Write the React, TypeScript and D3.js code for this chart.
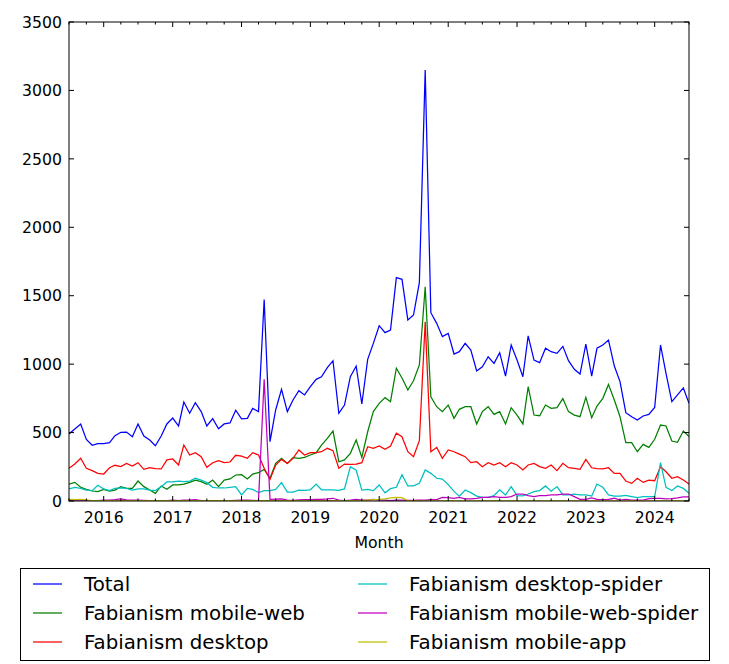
import React from "react";
import * as d3 from "d3";

const startMonth = new Date(2015, 6, 1);
const months: Date[] = d3.range(109).map((i) => new Date(2015, 6 + i, 1));

const total = [490, 526, 563, 450, 407, 419, 419, 426, 477, 502,
  504, 470, 563, 475, 446, 404, 475, 563, 606, 548,
  723, 641, 718, 653, 548, 602, 528, 563, 570, 663,
  600, 604, 677, 653, 1473, 434, 665, 816, 653, 738,
  806, 775, 835, 889, 908, 974, 1025, 641, 701, 908,
  986, 709, 1035, 1152, 1281, 1230, 1249, 1632, 1620, 1323,
  1359, 1595, 3149, 1376, 1298, 1201, 1225, 1074, 1091, 1152,
  1103, 950, 981, 1054, 1006, 1084, 913, 1140, 1030, 908,
  1206, 1030, 1011, 1116, 1091, 1079, 1130, 1025, 962, 928,
  1147, 913, 1116, 1140, 1176, 986, 872, 645, 616, 592,
  621, 633, 684, 1140, 933, 726, 775, 826, 714];

const mobileWeb = [124, 136, 100, 85, 73, 68, 85, 73, 80, 105,
  92, 92, 146, 105, 80, 56, 110, 85, 117, 117,
  124, 136, 153, 141, 122, 153, 105, 153, 161, 190,
  192, 161, 197, 207, 231, 166, 275, 312, 275, 317,
  312, 319, 336, 353, 409, 458, 511, 287, 300, 348,
  446, 319, 506, 653, 714, 755, 726, 970, 899, 811,
  879, 994, 1566, 762, 689, 653, 701, 604, 670, 689,
  689, 563, 653, 689, 633, 653, 563, 682, 628, 563,
  835, 628, 623, 701, 677, 682, 748, 653, 628, 616,
  757, 609, 694, 750, 852, 738, 616, 426, 426, 360,
  414, 392, 451, 555, 548, 438, 429, 511, 470];

const desktop = [239, 270, 312, 239, 222, 202, 197, 243, 261, 251,
  275, 256, 280, 231, 243, 236, 234, 300, 307, 263,
  409, 336, 353, 324, 246, 280, 295, 280, 285, 334,
  328, 312, 353, 336, 239, 158, 263, 304, 275, 312,
  373, 336, 353, 353, 360, 385, 368, 239, 270, 268,
  270, 280, 397, 385, 402, 378, 402, 495, 470, 360,
  324, 441, 1310, 360, 392, 312, 373, 360, 343, 324,
  280, 287, 251, 280, 263, 280, 251, 280, 263, 227,
  263, 275, 251, 239, 263, 222, 275, 243, 239, 231,
  304, 243, 236, 234, 243, 202, 202, 146, 129, 166,
  136, 153, 148, 251, 214, 166, 178, 153, 124];

const desktopSpider = [88, 100, 92, 80, 76, 115, 88, 76, 92, 95,
  92, 80, 88, 88, 80, 76, 105, 139, 139, 146,
  141, 146, 166, 153, 134, 100, 95, 95, 100, 105,
  44, 92, 85, 61, 76, 76, 85, 134, 65, 65,
  80, 78, 82, 124, 82, 82, 82, 78, 88, 250,
  225, 80, 85, 76, 117, 60, 90, 100, 192, 110,
  110, 129, 227, 202, 166, 160, 120, 70, 35, 80,
  61, 36, 27, 27, 40, 82, 44, 105, 40, 38,
  51, 68, 76, 110, 72, 105, 44, 44, 51, 44,
  44, 36, 124, 100, 44, 36, 36, 41, 32, 24,
  32, 32, 32, 280, 100, 76, 110, 92, 56];

const mobileWebSpider = [3, 3, 2, 2, 1, 2, 7, 7, 10, 15,
  8, 7, 7, 5, 3, 3, 2, 3, 7, 3,
  7, 7, 10, 3, 1, 2, 3, 2, 3, 5,
  7, 7, 5, 2, 889, 12, 14, 15, 7, 5,
  8, 10, 10, 12, 12, 15, 20, 7, 3, 7,
  12, 7, 7, 12, 7, 7, 3, 7, 7, 5,
  5, 7, 7, 10, 10, 27, 24, 20, 27, 15,
  15, 20, 27, 27, 32, 27, 27, 32, 51, 51,
  39, 32, 39, 39, 44, 44, 51, 51, 32, 12,
  12, 22, 12, 10, 12, 20, 7, 12, 7, 7,
  7, 17, 20, 20, 15, 17, 22, 30, 30];

const mobileApp = [12, 10, 12, 8, 3, 2, 2, 2, 2, 2,
  2, 2, 2, 2, 2, 2, 2, 2, 2, 2,
  2, 2, 2, 2, 2, 2, 2, 2, 2, 2,
  2, 2, 2, 2, 2, 2, 2, 2, 2, 2,
  2, 2, 2, 2, 2, 2, 2, 2, 2, 2,
  2, 3, 7, 10, 12, 15, 22, 27, 25, 2,
  1, 1, 1, 1, 1, 1, 1, 1, 1, 1,
  1, 1, 1, 1, 1, 1, 1, 1, 1, 1,
  1, 1, 1, 1, 1, 1, 1, 1, 1, 1,
  1, 1, 1, 1, 1, 1, 1, 1, 1, 1,
  1, 1, 1, 1, 1, 1, 1, 1, 1];

const seriesNames = ["Total", "Fabianism mobile-web", "Fabianism desktop",
  "Fabianism desktop-spider", "Fabianism mobile-web-spider", "Fabianism mobile-app"];
const seriesColors = ["#0000ff", "#008000", "#ff0000", "#00bfbf", "#bf00bf", "#bfbf00"];
const seriesValues = [total, mobileWeb, desktop, desktopSpider, mobileWebSpider, mobileApp];

const yTicks = [0, 500, 1000, 1500, 2000, 2500, 3000, 3500];
const yearTicks = d3.range(2016, 2025);

const W = 729, H = 664;
const L = 69, R = 689, T = 22, B = 501;
const FONT = "DejaVu Sans, sans-serif";

export default function App() {
  const x = d3.scaleTime().domain([startMonth, new Date(2024, 6, 1)]).range([L, R]);
  const y = d3.scaleLinear().domain([0, 3500]).range([B, T]);
  const line = d3.line<number>().x((_, i) => x(months[i])).y((v) => y(v));
  const quarterTicks = d3.timeMonth.every(3)!.range(startMonth, new Date(2024, 7, 1))
    .filter((d) => d.getMonth() !== 0);
  const legendRows = [0, 1, 2];
  return (
    <svg width={W} height={H} style={{ position: "absolute", left: 0, top: 0, background: "#fff" }}
      fontFamily={FONT}>
      <rect x={0} y={0} width={W} height={H} fill="#fff" />
      <defs>
        <clipPath id="plot"><rect x={L} y={T} width={R - L} height={B - T} /></clipPath>
      </defs>
      <g clipPath="url(#plot)">
        {seriesValues.map((vals, k) => (
          <path key={k} d={line(vals)!} fill="none" stroke={seriesColors[k]} strokeWidth={1.25}
            strokeLinejoin="miter" />
        ))}
      </g>
      <rect x={L} y={T} width={R - L} height={B - T} fill="none" stroke="#000" strokeWidth={1} />
      {yTicks.map((t) => (
        <g key={t}>
          <line x1={L} x2={L + 5} y1={y(t)} y2={y(t)} stroke="#000" />
          <line x1={R} x2={R - 5} y1={y(t)} y2={y(t)} stroke="#000" />
          <text x={L - 7} y={y(t)} dy="0.36em" textAnchor="end" fontSize={15.7}>{t}</text>
        </g>
      ))}
      {yearTicks.map((yr) => {
        const px = x(new Date(yr, 0, 1));
        return (
          <g key={yr}>
            <line x1={px} x2={px} y1={B} y2={B - 5} stroke="#000" />
            <line x1={px} x2={px} y1={T} y2={T + 5} stroke="#000" />
            <text x={px} y={523} textAnchor="middle" fontSize={15.7}>{yr}</text>
          </g>
        );
      })}
      {quarterTicks.map((d, i) => {
        const px = x(d);
        return (
          <g key={"q" + i}>
            <line x1={px} x2={px} y1={B} y2={B - 2.5} stroke="#000" />
            <line x1={px} x2={px} y1={T} y2={T + 2.5} stroke="#000" />
          </g>
        );
      })}
      <text x={(L + R) / 2} y={548} textAnchor="middle" fontSize={15.7}>Month</text>
      <rect x={20.5} y={568.5} width={689} height={92} fill="#fff" stroke="#000" strokeWidth={1} />
      {seriesNames.map((name, k) => {
        const col = Math.floor(k / 3);
        const row = legendRows[k % 3];
        const ly = 584 + row * 29;
        const lx = col === 0 ? 33 : 358;
        return (
          <g key={name}>
            <line x1={lx} x2={lx + 29} y1={ly} y2={ly} stroke={seriesColors[k]} strokeWidth={1.25} />
            <text x={lx + 51} y={ly} dy="0.36em" fontSize={19.8}>{name}</text>
          </g>
        );
      })}
    </svg>
  );
}
